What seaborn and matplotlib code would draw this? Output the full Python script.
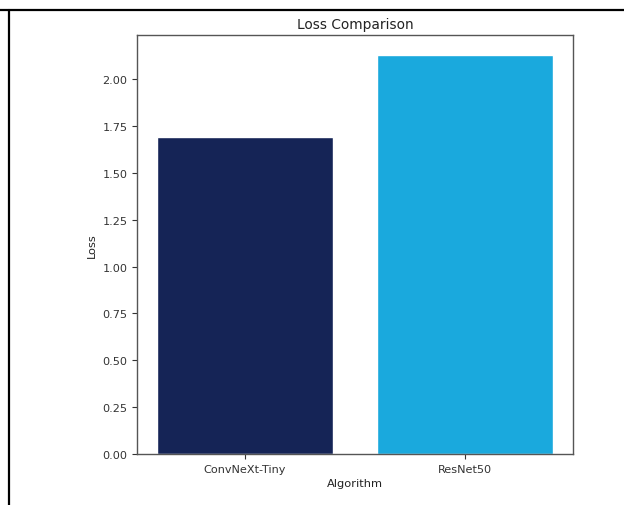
import matplotlib
matplotlib.use('Agg')
import matplotlib.pyplot as plt
import seaborn as sns
import pandas as pd
from matplotlib.lines import Line2D

# data
algorithms = ['ConvNeXt-Tiny', 'ResNet50']
losses = [1.69, 2.13]
bar_colors = ['#152456', '#1aa9dd']

df = pd.DataFrame({'Algorithm': algorithms, 'Loss': losses})

sns.set_style('ticks')
plt.rcParams['font.family'] = ['DejaVu Sans']

fig = plt.figure(figsize=(6.24, 5.06), dpi=100)
ax = fig.add_axes([0.2196, 0.1008, 0.6987, 0.8281])

sns.barplot(data=df, x='Algorithm', y='Loss', hue='Algorithm',
            palette=bar_colors, width=0.8, saturation=1, legend=False, ax=ax)
ax.set_xlim(-0.49, 1.49)
ax.set_ylim(0, max(losses) * 1.05)
ax.set_yticks([0, 0.25, 0.5, 0.75, 1.0, 1.25, 1.5, 1.75, 2.0])
ax.set_yticklabels(['0.00', '0.25', '0.50', '0.75', '1.00', '1.25', '1.50', '1.75', '2.00'])

ax.set_title('Loss Comparison', fontsize=9.9, color='#222222', pad=5)
ax.set_xlabel('Algorithm', fontsize=8.2, color='#222222', labelpad=3)
ax.set_ylabel('Loss', fontsize=8.2, color='#222222')
ax.tick_params(labelsize=8.1, colors='#333333', length=3.5, width=0.8)
for s in ax.spines.values():
    s.set_visible(True)
    s.set_color('#555555')
    s.set_linewidth(1.0)

# cell border from the screenshot (top and left edges)
fig.add_artist(Line2D([0, 1], [1 - 11 / 506, 1 - 11 / 506], transform=fig.transFigure, color='black', lw=1.6))
fig.add_artist(Line2D([9 / 624, 9 / 624], [0, 1 - 11 / 506], transform=fig.transFigure, color='black', lw=1.6))

fig.savefig('out.png', dpi=100, facecolor='white')
